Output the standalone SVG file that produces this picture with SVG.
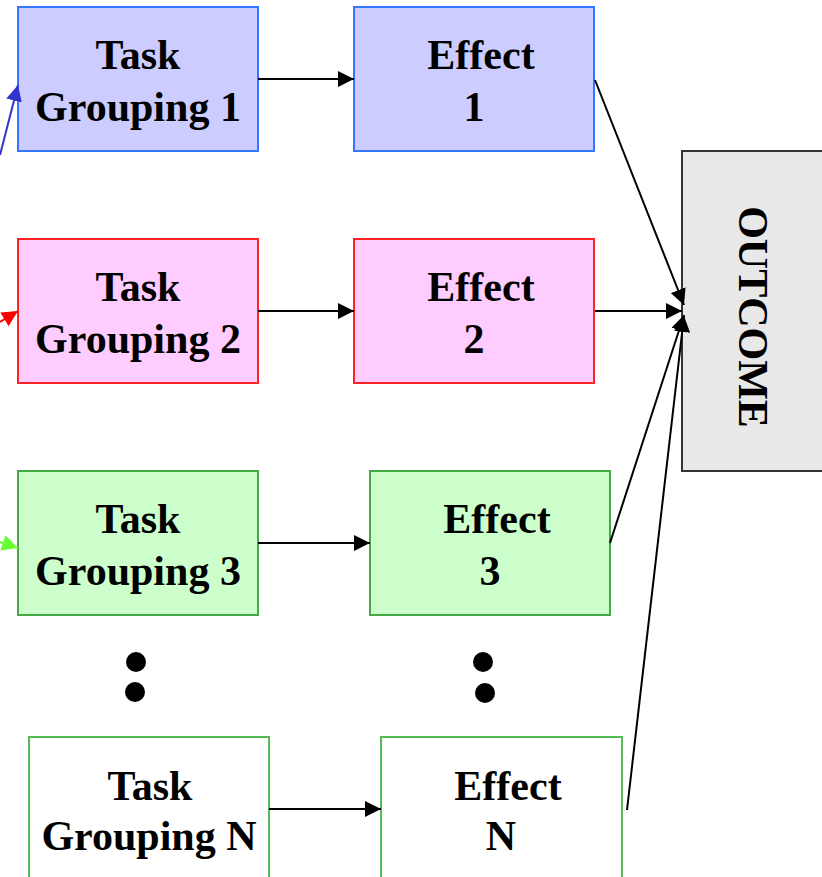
<svg xmlns="http://www.w3.org/2000/svg" width="822" height="877" viewBox="0 0 822 877">
<style>
.t{font-family:"Liberation Serif","Times New Roman",serif;font-weight:bold;font-size:42px;fill:#000;text-anchor:middle}
.c{stroke:#000;stroke-width:2;fill:none}
</style>
<defs>
<marker id="ak" viewBox="0 0 10 10" refX="10" refY="5" markerWidth="16" markerHeight="16" markerUnits="userSpaceOnUse" orient="auto"><path d="M0,0L10,5L0,10z" fill="#000"/></marker>
<marker id="ab" viewBox="0 0 10 10" refX="10" refY="5" markerWidth="16" markerHeight="16" markerUnits="userSpaceOnUse" orient="auto"><path d="M0,0L10,5L0,10z" fill="#3333cc"/></marker>
<marker id="ar" viewBox="0 0 10 10" refX="10" refY="5" markerWidth="16" markerHeight="16" markerUnits="userSpaceOnUse" orient="auto"><path d="M0,0L10,5L0,10z" fill="#ff0000"/></marker>
<marker id="ag" viewBox="0 0 10 10" refX="10" refY="5" markerWidth="16" markerHeight="16" markerUnits="userSpaceOnUse" orient="auto"><path d="M0,0L10,5L0,10z" fill="#66ff33"/></marker>
</defs>
<rect width="822" height="877" fill="#fff"/>
<g id="tg1"><rect x="18" y="7" width="240" height="144" fill="#ccccff" stroke="#3377ff" stroke-width="2"/><text class="t" x="138" y="69">Task</text><text class="t" x="138" y="121">Grouping 1</text></g>
<g id="e1"><rect x="354" y="7" width="240" height="144" fill="#ccccff" stroke="#3377ff" stroke-width="2"/><text class="t" x="481" y="69">Effect</text><text class="t" x="474" y="121">1</text></g>
<g id="tg2"><rect x="18" y="239" width="240" height="144" fill="#ffccff" stroke="#ff2222" stroke-width="2"/><text class="t" x="138" y="301">Task</text><text class="t" x="138" y="353">Grouping 2</text></g>
<g id="e2"><rect x="354" y="239" width="240" height="144" fill="#ffccff" stroke="#ff2222" stroke-width="2"/><text class="t" x="481" y="301">Effect</text><text class="t" x="474" y="353">2</text></g>
<g id="tg3"><rect x="18" y="471" width="240" height="144" fill="#ccffcc" stroke="#44aa44" stroke-width="2"/><text class="t" x="138" y="533">Task</text><text class="t" x="138" y="585">Grouping 3</text></g>
<g id="e3"><rect x="370" y="471" width="240" height="144" fill="#ccffcc" stroke="#44aa44" stroke-width="2"/><text class="t" x="497" y="533">Effect</text><text class="t" x="490" y="585">3</text></g>
<g id="tgn"><rect x="29" y="737" width="240" height="150" fill="#fff" stroke="#55bb55" stroke-width="2"/><text class="t" x="150" y="800">Task</text><text class="t" x="149" y="850">Grouping N</text></g>
<g id="en"><rect x="381" y="737" width="241" height="150" fill="#fff" stroke="#55bb55" stroke-width="2"/><text class="t" x="508" y="800">Effect</text><text class="t" x="501" y="850">N</text></g>
<g id="outcome"><rect x="682" y="151" width="150" height="320" fill="#e8e8e8" stroke="#333" stroke-width="2"/><text class="t" transform="translate(739,317) rotate(90)" x="0" y="0">OUTCOME</text></g>
<g id="dots"><circle cx="136" cy="662" r="10"/><circle cx="135" cy="692" r="10"/><circle cx="483" cy="662" r="10"/><circle cx="485" cy="693" r="10"/></g>
<g id="connectors">
<line class="c" x1="258" y1="79" x2="354" y2="79" marker-end="url(#ak)"/>
<line class="c" x1="258" y1="311" x2="354" y2="311" marker-end="url(#ak)"/>
<line class="c" x1="258" y1="543" x2="370" y2="543" marker-end="url(#ak)"/>
<line class="c" x1="269" y1="809" x2="381" y2="809" marker-end="url(#ak)"/>
<line class="c" x1="595" y1="80" x2="684" y2="305" marker-end="url(#ak)"/>
<line class="c" x1="595" y1="311" x2="682" y2="311" marker-end="url(#ak)"/>
<line class="c" x1="610" y1="543" x2="684" y2="315" marker-end="url(#ak)"/>
<line class="c" x1="627" y1="810" x2="684" y2="316" marker-end="url(#ak)"/>
<line x1="0" y1="155" x2="18" y2="85" stroke="#3333cc" stroke-width="2" marker-end="url(#ab)"/>
<line x1="0" y1="322" x2="18" y2="311" stroke="#ff0000" stroke-width="2" marker-end="url(#ar)"/>
<line x1="0" y1="542" x2="18" y2="548" stroke="#66ff33" stroke-width="2" marker-end="url(#ag)"/>
</g>
</svg>
